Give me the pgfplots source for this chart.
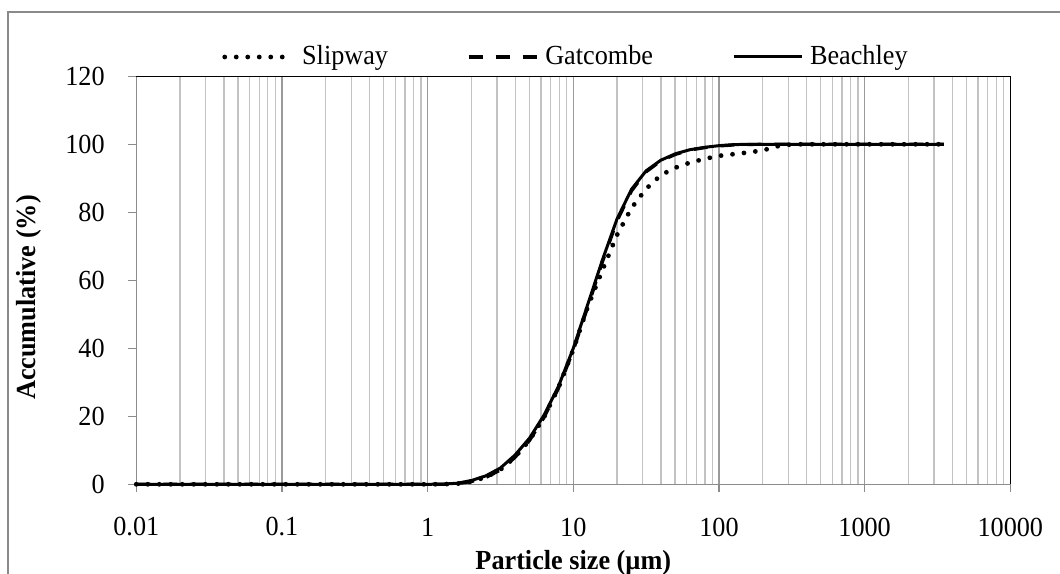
\documentclass[border=0pt]{standalone}
\usepackage{fontspec}
\setmainfont{Liberation Serif}[FakeStretch=0.95]
\usepackage{pgfplots}
\pgfplotsset{compat=1.18}
\usepackage{pgfplotstable}

\definecolor{framegray}{HTML}{8A8A8A}
\definecolor{axisgray}{HTML}{8C8C8C}
\definecolor{majgray}{HTML}{9A9A9A}
\definecolor{mingray}{HTML}{C2C2C2}

% cumulative particle size distributions (size in micrometres, percent passing)
\pgfplotstableread{
d v
0.01 0
1.000 0
1.259 0.02
1.585 0.15
1.995 0.8
2.512 2.1
3.162 4.3
3.981 8.0
5.012 13.0
6.310 19.8
7.943 28.6
10.00 39.6
12.59 52.3
15.85 63.0
19.95 73.3
25.12 81.3
31.62 86.9
39.81 90.9
50.12 93.1
63.10 94.6
79.43 95.7
100.0 96.6
125.9 97.1
158.5 97.6
199.5 98.2
251.2 99.4
316.2 100
3500 100
}\slipway

\pgfplotstableread{
d v
0.01 0
1.000 0
1.259 0.02
1.585 0.15
1.995 0.8
2.512 2.0
3.162 4.2
3.981 7.9
5.012 12.9
6.310 19.7
7.943 28.4
10.00 39.4
12.59 52.2
15.85 65.4
19.95 77.4
25.12 86.3
31.62 91.9
39.81 95.1
50.12 97.0
63.10 98.3
79.43 99.0
100.0 99.5
125.9 99.8
158.5 99.95
199.5 100
3500 100
}\gatcombe

\pgfplotstableread{
d v
0.01 0
1.000 0
1.259 0.05
1.585 0.3
1.995 1.1
2.512 2.5
3.162 4.8
3.981 8.6
5.012 13.6
6.310 20.4
7.943 29.0
10.00 40.0
12.59 53.0
15.85 66.0
19.95 78.0
25.12 86.8
31.62 92.2
39.81 95.3
50.12 97.2
63.10 98.4
79.43 99.1
100.0 99.6
125.9 99.9
158.5 100
3500 100
}\beachley

\begin{document}
\fontsize{13.8bp}{16.5bp}\selectfont
\begin{tikzpicture}
\useasboundingbox (0,0) rectangle (530bp,287bp);
% outer chart frame
\draw[framegray, line width=0.85bp] (4bp,-10bp) -- (4bp,281bp) -- (540bp,281bp);
\begin{axis}[
  at={(68.15bp,44.85bp)}, anchor=south west,
  scale only axis, width=437bp, height=204bp,
  xmode=log, xmin=0.01, xmax=10000, ymin=0, ymax=120,
  xtick={0.01,0.1,1,10,100,1000,10000},
  xticklabels={0.01,0.1,1,10,100,1000,10000},
  minor xtick={0.02,0.03,0.04,0.05,0.06,0.07,0.08,0.09,
    0.2,0.3,0.4,0.5,0.6,0.7,0.8,0.9,
    2,3,4,5,6,7,8,9,
    20,30,40,50,60,70,80,90,
    200,300,400,500,600,700,800,900,
    2000,3000,4000,5000,6000,7000,8000,9000},
  ytick={0,20,40,60,80,100,120},
  yticklabels={0,20,40,60,80,100,120},
  xmajorgrids, xminorgrids,
  major grid style={color=majgray, line width=0.65bp},
  minor grid style={color=mingray, line width=0.65bp},
  axis x line*=bottom, axis y line*=left,
  axis line style={axisgray, line width=0.7bp, -},
  tick align=outside,
  major tick length=4bp, minor tick length=0pt,
  every tick/.style={axisgray, line width=0.7bp},
  /pgf/number format/assume math mode=true,
  xticklabel style={anchor=center, inner sep=0pt, yshift=-17.35bp},
  yticklabel style={anchor=east, inner sep=0pt, xshift=-11.65bp},
  xlabel={\bfseries Particle size (µm)},
  xlabel style={at={(axis description cs:0.5,-0.1925)}, anchor=center},
  ylabel={\bfseries Accumulative (\%)},
  ylabel style={at={(axis description cs:-0.1225,0.4578)}, anchor=center},
  clip=false,
  legend columns=3,
  legend cell align=left,
  legend image code/.code={\draw[#1] (0bp,0bp) -- (34bp,0bp);},
  legend style={draw=none, fill=none, inner sep=0pt,
    at={(axis description cs:0.098,1.0473)}, anchor=west,
    nodes={inner sep=0pt},
    /tikz/every odd column/.append style={column sep=3.5bp},
    /tikz/every even column/.append style={column sep=39.5bp}},
]
\addplot[black, line width=2.4bp, line cap=round, dash pattern=on 0bp off 5.75bp]
  table[x=d, y=v] {\slipway};
\addlegendentry{Slipway}
\addplot[black, line width=1.6bp, dash pattern=on 7bp off 6.5bp]
  table[x=d, y=v] {\gatcombe};
\addlegendentry{Gatcombe}
\addplot[black, line width=1.5bp]
  table[x=d, y=v] {\beachley};
\addlegendentry{Beachley}
% plot area border on the top and right
\draw[black, line width=0.7bp] (rel axis cs:0,1) -- (rel axis cs:1,1) -- (rel axis cs:1,0);
\end{axis}
\end{tikzpicture}
\end{document}
